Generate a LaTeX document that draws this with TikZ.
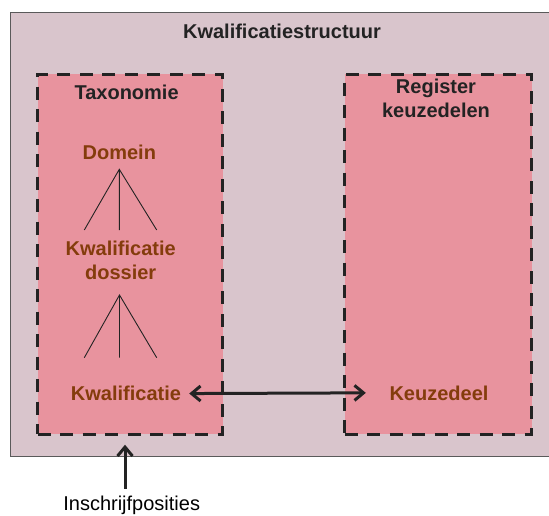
\documentclass[tikz,border=0pt]{standalone}
\usepackage{fontspec}
\setmainfont{Liberation Sans}
\usetikzlibrary{arrows.meta}
\definecolor{outerfill}{RGB}{217,197,204}
\definecolor{innerfill}{RGB}{232,147,158}
\definecolor{brownt}{RGB}{132,60,12}
\definecolor{darkt}{RGB}{35,35,35}
\definecolor{framegray}{RGB}{90,90,90}
\begin{document}
\begin{tikzpicture}[x=1pt,y=-1pt,
  lbl/.style={font=\fontsize{20}{24.5}\selectfont\bfseries, inner sep=0pt},
  brownlbl/.style={lbl, text=brownt},
  blacklbl/.style={lbl, text=darkt},
  dbox/.style={draw=darkt, line width=3pt, dash pattern=on 13pt off 9.5pt,
    fill=innerfill, inner sep=0pt, anchor=north west},
  barb/.tip={Straight Barb[length=9pt,width=15pt]},
  arr/.style={draw=darkt, line width=3pt, barb-barb},
  uparr/.style={draw=darkt, line width=3pt, -barb},
  fan/.style={draw=darkt, line width=0.9pt}
]
\useasboundingbox (0,0) rectangle (549,515);
% outer frame
\fill[outerfill] (10,12) rectangle (549,456);
\draw[framegray, line width=1pt] (549,12) -- (10,12) -- (10,456) -- (549,456);
\node[blacklbl, anchor=base] (title) at (282,38.5) {Kwalificatiestructuur};
% dashed boxes
\node[dbox, minimum width=185pt, minimum height=360pt] (taxbox) at (36,72.5) {};
\node[dbox, minimum width=187pt, minimum height=360pt] (regbox) at (343,72.5) {};
% labels
\node[blacklbl, anchor=base] (tax) at (126.6,99) {Taxonomie};
\node[blacklbl, align=center] (reg) at (436,98.2) {Register\\keuzedelen};
\node[brownlbl, anchor=base] (domein) at (119.3,159) {Domein};
\node[brownlbl, align=center] (dossier) at (120.7,260.2) {Kwalificatie\\dossier};
\node[brownlbl, anchor=base] (kwal) at (126,400.7) {Kwalificatie};
\node[brownlbl, anchor=base] (keuze) at (439,400) {Keuzedeel};
\node[font=\fontsize{20}{24}\selectfont, text=black, inner sep=0pt, anchor=base] (inschr) at (131.7,510.5) {Inschrijfposities};
% fans
\coordinate (f1) at (119.3,169.3);
\coordinate (f1l) at (84.3,230);
\coordinate (f1m) at (119.3,230);
\coordinate (f1r) at (156.7,230);
\draw[fan] (f1l) -- (f1) -- (f1r) (f1) -- (f1m);
\coordinate (f2) at (119.5,295);
\coordinate (f2l) at (84.3,357.7);
\coordinate (f2m) at (119.5,357.7);
\coordinate (f2r) at (156.7,357.7);
\draw[fan] (f2l) -- (f2) -- (f2r) (f2) -- (f2m);
% arrows
\draw[arr] ([xshift=8pt]kwal.east) -- ([xshift=-23.5pt]keuze.west);
\coordinate (upx) at (125,0);
\draw[uparr, shorten <=7pt, shorten >=9.2pt] (inschr.north -| upx) -- (taxbox.south -| upx);
\end{tikzpicture}
\end{document}
